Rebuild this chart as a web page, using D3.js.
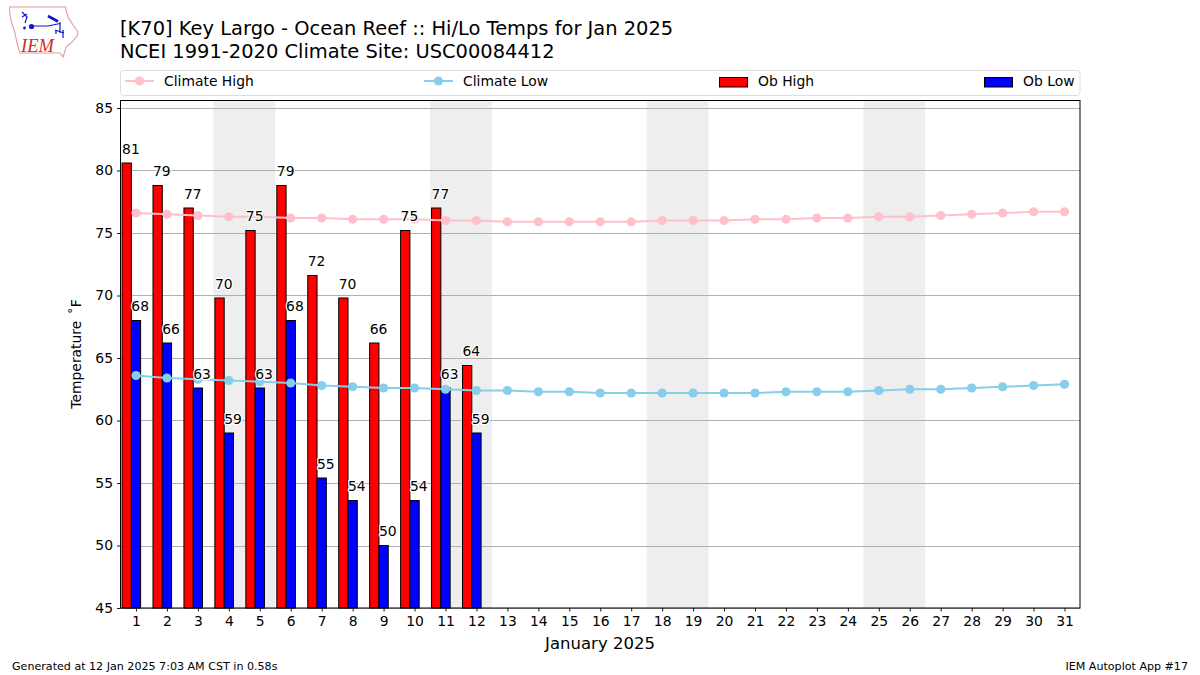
<!DOCTYPE html>
<html><head><meta charset="utf-8">
<script src="https://cdn.jsdelivr.net/npm/d3@7"></script>
<style>
html,body{margin:0;padding:0;background:#fff;overflow:hidden}
svg{display:block}
text{font-family:"DejaVu Sans",sans-serif;fill:#000}
</style></head><body>
<script>
const days = d3.range(1, 32);
const climateHigh = [76.6,76.5,76.4,76.3,76.3,76.2,76.2,76.1,76.1,76.1,76.0,76.0,75.9,75.9,75.9,75.9,75.9,76.0,76.0,76.0,76.1,76.1,76.2,76.2,76.3,76.3,76.4,76.5,76.6,76.7,76.7];
const climateLow = [63.6,63.4,63.3,63.2,63.1,63.0,62.8,62.7,62.6,62.6,62.5,62.4,62.4,62.3,62.3,62.2,62.2,62.2,62.2,62.2,62.2,62.3,62.3,62.3,62.4,62.5,62.5,62.6,62.7,62.8,62.9];
const obHigh = [80.6,78.8,77.0,69.8,75.2,78.8,71.6,69.8,66.2,75.2,77.0,64.4];
const obLow = [68.0,66.2,62.6,59.0,62.6,68.0,55.4,53.6,50.0,53.6,62.6,59.0];
const weekends = [[3.5,5.5],[10.5,12.5],[17.5,19.5],[24.5,26.5]];
const yTicks = [45,50,55,60,65,70,75,80,85];
const titleLines = ["[K70] Key Largo - Ocean Reef :: Hi/Lo Temps for Jan 2025","NCEI 1991-2020 Climate Site: USC00084412"];
const legendItems = ["Climate High","Climate Low","Ob High","Ob Low"];

const W=1200,H=675,L=120.5,R=1080,T=100.5,B=608;
const x=d3.scaleLinear().domain([0.5,31.5]).range([L,R]);
const y=d3.scaleLinear().domain([45,85.6]).range([B,T]);
const svg=d3.select("body").append("svg").attr("width",W).attr("height",H).attr("viewBox",`0 0 ${W} ${H}`);

// logo
const logo=svg.append("g");
logo.append("path").attr("fill","#fff").attr("stroke","#e79a9a").attr("stroke-width",1.1)
 .attr("d","M9.5,7 L65.5,7 L66.5,12 L68,17 L73,25 L78,32 L77,36 L72,42 L66,47 L65,51 L63,57 L60,53 L20,53 L17,43 L15,33 L12,24 L10,15 Z");
logo.append("g").attr("stroke","#1414c8").attr("fill","none").attr("stroke-width",1.2).call(g=>{
 g.append("path").attr("d","M32,26 L48,26 L60,23.5 M60,22 L60,33 M55,30 L64,33");
 g.append("path").attr("d","M22,12 L27,17 L25,23 M22,17 L27,14");
 g.append("path").attr("d","M48,16 L58,21.5").attr("stroke-width",2.6);
 g.append("path").attr("d","M56,30 L56,34 M63,30 L63,38");
});
logo.append("circle").attr("cx",31.5).attr("cy",26.5).attr("r",2.6).attr("fill","#1414c8");
logo.append("circle").attr("cx",24.5).attr("cy",28).attr("r",1.4).attr("fill","#1414c8");
logo.append("text").attr("x",21).attr("y",52).text("IEM")
 .style("font-family","'Liberation Serif',serif").style("font-style","italic").style("font-size","18.5px").style("fill","#d42a2a");

// titles
svg.selectAll("text.title").data(titleLines).join("text").attr("class","title")
 .attr("x",120).attr("y",(d,i)=>35+i*22.5).style("font-size","19.44px").text(d=>d);

// legend
svg.append("rect").attr("x",120.5).attr("y",70.5).attr("width",959.5).attr("height",25).attr("rx",3)
 .attr("fill","#fff").attr("stroke","#dedede");
const ly=81;
[["pink",125,164],["skyblue",424,463]].forEach(([c,hx,tx],i)=>{
 svg.append("line").attr("x1",hx).attr("x2",hx+29).attr("y1",ly).attr("y2",ly).attr("stroke",c).attr("stroke-width",2);
 svg.append("circle").attr("cx",hx+14.5).attr("cy",ly).attr("r",4.6).attr("fill",c);
 svg.append("text").attr("x",tx).attr("y",ly+5).style("font-size","13.9px").text(legendItems[i]);
});
[["red",719,758],["blue",984,1023]].forEach(([c,hx,tx],i)=>{
 svg.append("rect").attr("x",hx+.5).attr("y",77.5).attr("width",28).attr("height",9.5).attr("fill",c).attr("stroke","#000").attr("stroke-width",1);
 svg.append("text").attr("x",tx).attr("y",ly+5).style("font-size","13.9px").text(legendItems[i+2]);
});

// weekend shading
svg.selectAll("rect.wk").data(weekends).join("rect").attr("class","wk")
 .attr("x",d=>x(d[0])).attr("width",d=>x(d[1])-x(d[0])).attr("y",T).attr("height",B-T).attr("fill","#eeeeee");

// grid
svg.selectAll("line.grid").data(yTicks).join("line").attr("class","grid")
 .attr("x1",L).attr("x2",R).attr("y1",d=>Math.round(y(d))+.5).attr("y2",d=>Math.round(y(d))+.5)
 .attr("stroke","#b0b0b0").attr("stroke-width",1);

// bars
const bw=x(1.3)-x(1);
const bars=(data,off,col)=>svg.append("g").selectAll("rect").data(data).join("rect")
 .attr("x",(d,i)=>x(days[i]+off)).attr("width",bw)
 .attr("y",d=>y(d)).attr("height",d=>B-y(d))
 .attr("fill",col).attr("stroke","#000").attr("stroke-width",1);
bars(obHigh,-0.45,"red");
bars(obLow,-0.15,"blue");

// climate lines
const line=d3.line().x((d,i)=>x(days[i])).y(d=>y(d));
[[climateHigh,"pink"],[climateLow,"skyblue"]].forEach(([s,c])=>{
 svg.append("path").datum(s).attr("d",line).attr("fill","none").attr("stroke",c).attr("stroke-width",2);
 svg.append("g").selectAll("circle").data(s).join("circle")
  .attr("cx",(d,i)=>x(days[i])).attr("cy",d=>y(d)).attr("r",4.6).attr("fill",c);
});

// value labels
const labels=(data,off)=>svg.append("g").selectAll("text").data(data).join("text")
 .attr("x",(d,i)=>x(days[i]+off)).attr("y",d=>y(d)-9.4)
 .attr("stroke","#fff").attr("stroke-width",2.5).attr("paint-order","stroke").attr("stroke-linejoin","round")
 .style("font-size","13.9px").text(d=>Math.round(d));
labels(obHigh,-0.45);
labels(obLow,-0.15);

// frame
svg.append("rect").attr("x",L).attr("y",T).attr("width",R-L).attr("height",B-T).attr("fill","none").attr("stroke","#000").attr("stroke-width",1);

// axes
const ax=svg.append("g").attr("transform",`translate(0,${B})`).call(d3.axisBottom(x).tickValues(days).tickFormat(d3.format("d")).tickSize(3.5).tickPadding(5));
const ay=svg.append("g").attr("transform",`translate(${L},0)`).call(d3.axisLeft(y).tickValues(yTicks).tickSize(3.5).tickPadding(4));
[ax,ay].forEach(a=>{a.select(".domain").remove();a.selectAll("text").style("font-size","13.9px").style("font-family","'DejaVu Sans'").attr("fill","#000");a.selectAll("line").attr("stroke","#000").attr("stroke-width",.9);});

svg.append("text").attr("x",600).attr("y",649).attr("text-anchor","middle").style("font-size","16.5px").text("January 2025");
svg.append("text").attr("transform","translate(80.5,354) rotate(-90)").attr("text-anchor","middle").style("font-size","13.9px").style("word-spacing","2px").text("Temperature ˚F");
svg.append("text").attr("x",12).attr("y",670).style("font-size","11.1px").text("Generated at 12 Jan 2025 7:03 AM CST in 0.58s");
svg.append("text").attr("x",1188).attr("y",670).attr("text-anchor","end").style("font-size","11.1px").text("IEM Autoplot App #17");
</script>
</body></html>
